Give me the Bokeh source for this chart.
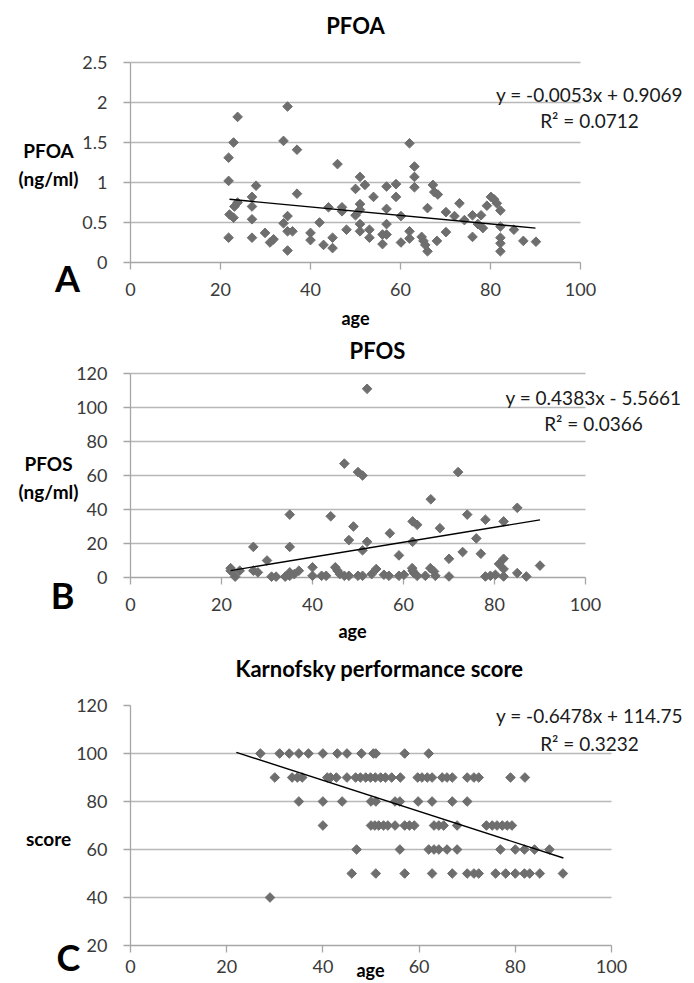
import numpy as np
from bokeh.plotting import figure
from bokeh.models import (Range1d, FixedTicker, NumeralTickFormatter, Label,
                          BoxAnnotation)
from bokeh.core.properties import value
from bokeh.layouts import column
from bokeh.embed import file_html
from bokeh.resources import INLINE

FONT = "Lato"

# ---------------- data ----------------
age_ticks = [0, 20, 40, 60, 80, 100]

# Panel A: PFOA (ng/ml) vs age
pfoa_age = [21.8, 21.8, 21.8, 22.9, 23.8, 22.0, 22.9, 23.1, 23.8,
            27.0, 27.0, 27.0, 27.0, 27.9, 29.9, 31.0, 31.8,
            34.0, 34.9, 37.0, 37.0, 34.9, 34.0, 34.9, 36.0, 34.9,
            40.0, 40.0, 42.0, 42.9, 44.9, 44.9, 44.0, 46.0, 47.0, 47.0, 48.0,
            50.0, 50.0, 51.0, 52.1, 51.0, 51.0, 51.0, 51.0, 53.1, 53.1, 54.0,
            56.0, 56.0, 56.9, 56.9, 56.9, 56.9,
            59.0, 59.0, 60.1, 60.1, 62.0, 63.1, 63.1, 63.1, 62.0, 62.0,
            64.7, 65.1, 65.5, 66.0, 66.0, 67.2, 67.5, 68.3, 68.1, 70.1,
            70.1, 73.1, 72.0, 74.2, 76.0, 76.0, 77.2, 77.9, 78.3, 79.2,
            80.1, 80.8, 81.4, 82.2, 82.2, 82.2, 82.2, 82.2, 85.2, 87.3, 90.1]
pfoa_val = [0.31, 1.02, 1.31, 1.50, 1.82, 0.60, 0.56, 0.70, 0.75,
            0.82, 0.70, 0.54, 0.31, 0.96, 0.37, 0.25, 0.29,
            1.52, 1.95, 1.41, 0.86, 0.58, 0.49, 0.39, 0.39, 0.15,
            0.37, 0.28, 0.50, 0.22, 0.31, 0.18, 0.69, 1.23, 0.69, 0.64, 0.41,
            0.92, 0.59, 1.07, 0.97, 0.73, 0.66, 0.48, 0.39, 0.41, 0.31, 0.82,
            0.35, 0.23, 0.95, 0.67, 0.48, 0.35,
            0.98, 0.82, 0.58, 0.25, 1.49, 1.20, 1.07, 0.94, 0.39, 0.30,
            0.32, 0.27, 0.22, 0.14, 0.68, 0.97, 0.88, 0.85, 0.27, 0.63,
            0.38, 0.74, 0.58, 0.53, 0.59, 0.32, 0.48, 0.59, 0.43, 0.71,
            0.82, 0.79, 0.74, 0.65, 0.45, 0.31, 0.24, 0.14, 0.41, 0.27, 0.26]
pfoa_ticks = [0, 0.5, 1, 1.5, 2, 2.5]
pfoa_fit = (-0.0053, 0.9069)
pfoa_eq = ["y = -0.0053x + 0.9069", "R² = 0.0712"]

# Panel B: PFOS (ng/ml) vs age
pfos_age = [52, 47, 50, 51, 72, 66, 85, 35, 44, 74,
            78, 82, 62, 63, 49, 68, 57, 76, 48, 52,
            62, 27, 35, 51, 73, 77, 59, 70, 82, 30,
            81, 90, 40, 45, 61.9, 65.9, 22, 54, 82,
            23, 22, 24, 27, 28, 31, 32, 34, 35, 36,
            37, 35, 40, 42, 43, 45.5, 46, 47, 48, 50,
            51, 53, 55.7, 56.8, 59, 60.1, 62.3, 62, 63, 64.8,
            66.7, 67, 70, 78, 79.1, 80.2, 82, 85, 87]
pfos_val = [111, 67, 62, 60, 62, 46, 41, 37, 36, 37,
            34, 33, 33, 31, 30, 29, 26, 23, 22, 21,
            21, 18, 18, 16, 15, 14, 13, 11, 11, 10,
            8, 7, 6, 6, 5.5, 5.5, 5.5, 5, 5,
            0.5, 4, 4, 4, 3, 0.5, 0.5, 0.5, 3, 2,
            4, 1, 1, 1, 1, 4, 2, 1, 1, 1,
            1, 2, 1.6, 1.0, 1.0, 1.6, 2.6, 4, 1, 1,
            3.6, 1, 0.6, 0.6, 1, 1.6, 0.6, 2.6, 0.6]
pfos_ticks = [0, 20, 40, 60, 80, 100, 120]
pfos_fit = (0.4383, -5.5661)
pfos_eq = ["y = 0.4383x - 5.5661", "R² = 0.0366"]

# Panel C: Karnofsky performance score vs age
kps_age = [27, 31, 33, 35, 37, 40, 43, 45, 48, 50.5, 51, 57, 62,
           30, 33.6, 34.7, 35.7, 40.9, 41.6, 42.8, 45, 46.8, 47.8,
           48.9, 49.9, 50.9, 52, 53, 54.3, 56.1, 59.7, 60.6, 61.7,
           62.7, 64.8, 65.8, 66.9, 70, 71.4, 72.4, 79, 82,
           35, 40, 44, 50, 51, 55, 56, 59.8, 62.7, 66.9, 70,
           40, 50, 50.8, 51.6, 52.6, 53.5, 55, 57, 58, 59,
           63.1, 64.1, 65.1, 67.9, 74, 75.2, 76.2, 77.3, 78.3, 79.3,
           47, 56, 62, 63.1, 64.1, 65.8, 67.9, 76.9, 80, 81.9, 84, 87.1,
           46, 51, 57, 62.7, 66.9, 70, 71.4, 72.4, 75.9, 78, 80, 81.9, 83, 85.1, 89.9,
           29]
kps_score = [100, 100, 100, 100, 100, 100, 100, 100, 100, 100, 100, 100, 100,
             90, 90, 90, 90, 90, 90, 90, 90, 90, 90,
             90, 90, 90, 90, 90, 90, 90, 90, 90, 90,
             90, 90, 90, 90, 90, 90, 90, 90, 90,
             80, 80, 80, 80, 80, 80, 80, 80, 80, 80, 80,
             70, 70, 70, 70, 70, 70, 70, 70, 70, 70,
             70, 70, 70, 70, 70, 70, 70, 70, 70, 70,
             60, 60, 60, 60, 60, 60, 60, 60, 60, 60, 60, 60,
             50, 50, 50, 50, 50, 50, 50, 50, 50, 50, 50, 50, 50, 50, 50,
             40]
kps_ticks = [20, 40, 60, 80, 100, 120]
kps_fit = (-0.6478, 114.75)
kps_eq = ["y = -0.6478x + 114.75", "R² = 0.3232"]

trend_age = [22, 90]

# ---------------- styling ----------------
PAGE_W = 694
LEFT = 130
MARK = "#6e6e6e"
GRID = "#b8b8b8"
AXIS = "#a6a6a6"
TICK_TXT = "#3a3a3a"
EQ = "#1a1a1a"


def make_panel(fig_top, fig_h, top_border, px_x, tick_top_page, px_y,
               frame_bottom_page, y_ticks, y_fmt, x_standoff):
    y0, y1 = y_ticks[0], y_ticks[-1]
    frame_top_page = fig_top + top_border
    y_end = y1 + (tick_top_page - frame_top_page) / px_y
    x_end = (PAGE_W - LEFT) / px_x
    p = figure(width=PAGE_W, height=fig_h,
               x_range=Range1d(0, x_end), y_range=Range1d(y0, y_end),
               output_backend="svg", toolbar_location=None,
               min_border_left=LEFT, min_border_right=0,
               min_border_top=top_border,
               min_border_bottom=fig_top + fig_h - frame_bottom_page)
    p.outline_line_color = None
    p.background_fill_color = "white"
    p.border_fill_color = "white"
    p.xgrid.grid_line_color = None
    p.ygrid.grid_line_color = GRID
    p.ygrid.grid_line_width = 1.3
    for ax in (p.xaxis, p.yaxis):
        ax.axis_line_color = AXIS
        ax.axis_line_width = 1.3
        ax.major_tick_line_color = AXIS
        ax.major_tick_line_width = 1.3
        ax.major_tick_in = 0
        ax.major_tick_out = 7
        ax.minor_tick_line_color = None
        ax.major_label_text_font = FONT
        ax.major_label_text_font_size = "18px"
        ax.major_label_text_color = TICK_TXT
    p.xaxis.ticker = FixedTicker(ticks=age_ticks)
    p.xaxis.bounds = (0, 100)
    p.xaxis.major_label_standoff = x_standoff
    p.yaxis.ticker = FixedTicker(ticks=y_ticks)
    p.yaxis.bounds = (y0, y1)
    p.yaxis.formatter = NumeralTickFormatter(format=y_fmt)
    p.yaxis.major_label_standoff = 16
    # plain area to the right of the plot area (no grid there)
    p.add_layout(BoxAnnotation(left=100, fill_color="white", fill_alpha=1.0,
                               line_alpha=0, level="underlay"))

    def to_data(px, py):
        return (px - LEFT) / px_x, y0 + (frame_bottom_page - py) / px_y

    def put(text, px, py, size, bold=False, color="black", side="center"):
        dx, dy = to_data(px, py)
        p.add_layout(Label(x=dx, y=dy, text=text, text_font=FONT,
                           text_font_size=f"{size}px",
                           text_font_style="bold" if bold else "normal",
                           text_color=color, text_align="center",
                           text_baseline="middle"), side)

    def letter(text, px, py):
        dx, dy = to_data(px, py)
        p.text(x=[dx], y=[dy], text=[text], text_font=value(FONT),
               text_font_size="36px", text_font_style="bold",
               text_color="black", text_align="center",
               text_baseline="middle", level="overlay")
    return p, put, letter


def draw(p, ages, vals, fit):
    r = p.scatter(ages, vals, marker="square", size=6.8, angle=np.pi / 4,
                  fill_color=MARK, line_color=MARK)
    r.level = "overlay"
    tx = np.array(trend_age, dtype=float)
    lr = p.line(tx, fit[0] * tx + fit[1], line_color="black", line_width=1.4)
    lr.level = "overlay"


# Panel A
pa, put_a, letter_a = make_panel(0, 330, 0, 4.5, 62, 80, 262,
                                 pfoa_ticks, "0.[0]", 13)
draw(pa, pfoa_age, pfoa_val, pfoa_fit)
put_a("PFOA", 355, 25, 22, bold=True)
put_a(pfoa_eq[0], 589, 94, 19, color=EQ)
put_a(pfoa_eq[1], 589, 120, 19, color=EQ)
put_a("PFOA\n(ng/ml)", 48, 164, 19, bold=True, side="left")
put_a("age", 355, 317, 18, bold=True, side="below")
letter_a("A", 67, 277)

# Panel B
pb, put_b, letter_b = make_panel(330, 325, 0, 4.55, 373, 1.7, 577,
                                 pfos_ticks, "0", 13)
draw(pb, pfos_age, pfos_val, pfos_fit)
put_b("PFOS", 377, 350, 22, bold=True)
put_b(pfos_eq[0], 593, 397, 19, color=EQ)
put_b(pfos_eq[1], 593, 423, 19, color=EQ)
put_b("PFOS\n(ng/ml)", 48, 477, 19, bold=True, side="left")
put_b("age", 352, 630, 18, bold=True, side="below")
letter_b("B", 62, 594)

# Panel C
pc, put_c, letter_c = make_panel(655, 325, 50, 4.81, 705, 2.4, 945,
                                 kps_ticks, "0", 7)
draw(pc, kps_age, kps_score, kps_fit)
put_c("Karnofsky performance score", 379, 668, 22, bold=True, side="above")
put_c(kps_eq[0], 589, 715, 19, color=EQ)
put_c(kps_eq[1], 589, 743, 19, color=EQ)
put_c("score", 48, 838, 19, bold=True, side="left")
put_c("age", 370, 969, 18, bold=True, side="above")
letter_c("C", 68, 956)

layout = column(pa, pb, pc, spacing=0)
open("out.html", "w").write(file_html(layout, INLINE))
